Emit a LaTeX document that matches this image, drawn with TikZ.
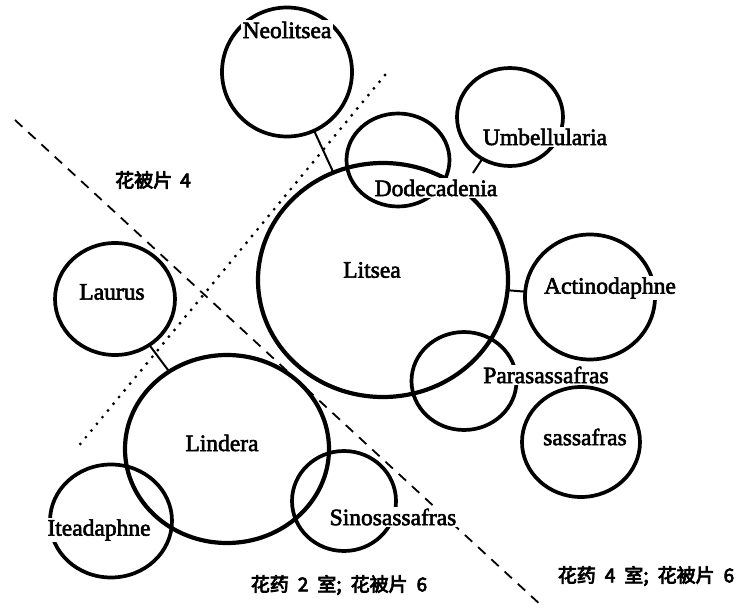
\documentclass[tikz,border=0pt]{standalone}
\usepackage{fontspec}
\setmainfont{Liberation Serif}
\newfontfamily\genusfont{Liberation Serif}[BoldFont={Liberation Serif}, BoldFeatures={FakeBold=2.5}]
\newfontfamily\cjk{Noto Sans CJK SC}[BoldFont={Noto Sans CJK SC}, BoldFeatures={FakeBold=4}]
\usepackage{tikz}
\usetikzlibrary{shapes.geometric}
\definecolor{ink}{HTML}{000000}
\tikzset{
  genus/.style={ellipse, draw=ink, line width=3.7pt, inner sep=0pt, outer sep=0pt},
  bigenus/.style={genus, line width=4.2pt},
  link/.style={draw=ink, line width=2pt},
  split/.style={draw=ink, line width=1.8pt, dash pattern=on 10pt off 8pt},
  bound/.style={draw=ink, line width=3.2pt, line cap=round, dash pattern=on 0pt off 8.7pt},
  labg/.style={fill=white, inner sep=1.5pt, text=ink, font=\genusfont\bfseries\fontsize{23.5}{26}\selectfont},
  labz/.style={inner sep=1pt, text=ink, font=\cjk\bfseries\fontsize{19}{22}\selectfont}
}

\begin{document}
\begin{tikzpicture}[x=1pt, y=-1pt]
  \useasboundingbox (0,0) rectangle (740,610);
  \coordinate (dashA) at (15,120);
  \coordinate (dashB) at (543,607);
  \coordinate (dotA) at (385,75);
  \coordinate (dotB) at (77,448);
  \draw[split] (dashA) -- (dashB);
  \draw[bound] (dotA) -- (dotB);

  \node[genus, minimum width=130pt, minimum height=129pt] (neo) at (287,72) {};
  \node[genus, minimum width=106pt, minimum height=98pt] (umb) at (510,117) {};
  \node[genus, minimum width=103pt, minimum height=93pt] (dod) at (398,160) {};
  \node[bigenus, minimum width=250pt, minimum height=234pt] (lit) at (383,280) {};
  \node[genus, minimum width=130pt, minimum height=125pt] (act) at (590,297) {};
  \node[genus, minimum width=105pt, minimum height=98pt] (par) at (464,381) {};
  \node[genus, minimum width=118pt, minimum height=110pt] (sas) at (581,442) {};
  \node[genus, minimum width=120pt, minimum height=112pt] (lau) at (115,299) {};
  \node[bigenus, minimum width=204pt, minimum height=188pt] (lin) at (227,449) {};
  \node[genus, minimum width=122pt, minimum height=113pt] (ite) at (111,521) {};
  \node[genus, minimum width=104pt, minimum height=100pt] (sin) at (344,501) {};

  \coordinate (umb-tip) at (473,173);
  \draw[link] (neo) -- (lit);
  \draw[link] (act) -- (lit);
  \draw[link] (lau) -- (lin);
  \draw[link] (umb) -- (umb-tip);

  \node[labg] (neo-l) at (287,30) {Neolitsea};
  \node[labg] (umb-l) at (545,137) {Umbellularia};
  \node[labg] (dod-l) at (436,188) {Dodecadenia};
  \node[labg] (lit-l) at (372,270) {Litsea};
  \node[labg] (act-l) at (610,288) {Actinodaphne};
  \node[labg] (par-l) at (546,375) {Parasassafras};
  \node[labg] (sas-l) at (585,437) {sassafras};
  \node[labg] (lau-l) at (112,292) {Laurus};
  \node[labg] (lin-l) at (222,443) {Lindera};
  \node[labg] (ite-l) at (99,530) {Iteadaphne};
  \node[labg] (sin-l) at (393,517) {Sinosassafras};

  \node[labz] (tepal4) at (153,180) {花被片\hspace{8pt}4};
  \node[labz] (anther2) at (339,585) {花药\hspace{9pt}2\hspace{9pt}室;\hspace{9pt}花被片\hspace{9pt}6};
  \node[labz] (anther4) at (646,576) {花药\hspace{9pt}4\hspace{9pt}室;\hspace{9pt}花被片\hspace{9pt}6};
\end{tikzpicture}
\end{document}
